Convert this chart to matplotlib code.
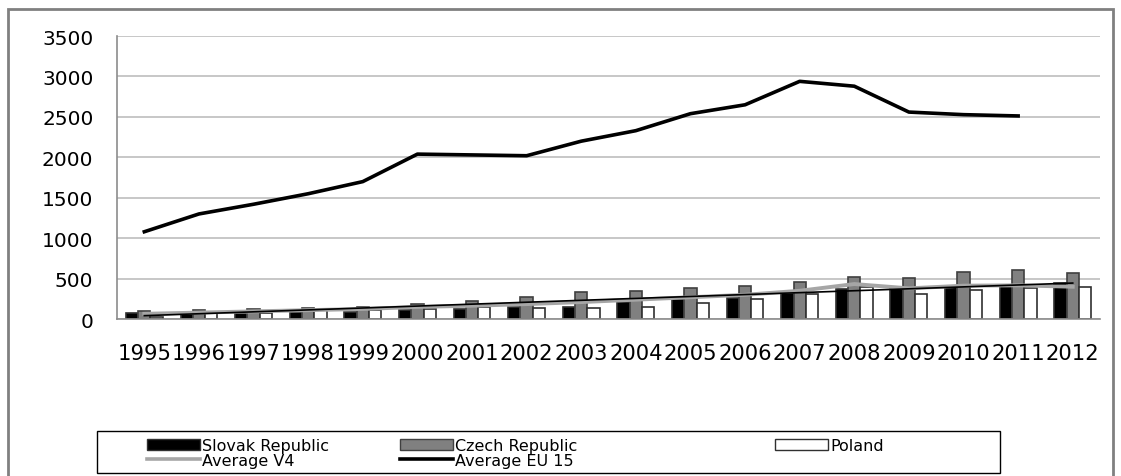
import numpy as np
import matplotlib
matplotlib.use('Agg')
import matplotlib.pyplot as plt
from matplotlib.patches import Rectangle, Patch
from matplotlib.lines import Line2D

# data
years = ['1995', '1996', '1997', '1998', '1999', '2000', '2001', '2002', '2003',
         '2004', '2005', '2006', '2007', '2008', '2009', '2010', '2011', '2012']
slovak = [75, 58, 75, 83, 92, 108, 125, 146, 146, 213, 246, 263, 325, 375, 375, 392, 420, 442]
czech = [100, 108, 125, 138, 150, 188, 221, 275, 338, 350, 388, 404, 463, 525, 513, 588, 613, 575]
poland = [29, 70, 75, 108, 117, 125, 150, 138, 138, 150, 200, 250, 308, 392, 313, 363, 380, 392]
avg_v4 = [65, 80, 95, 110, 125, 150, 165, 185, 210, 240, 270, 300, 350, 433, 380, 413, 417, 400]
avg_eu15 = [1080, 1300, 1420, 1550, 1700, 2040, 2030, 2020, 2200, 2330, 2540, 2650, 2940, 2880,
            2560, 2528, 2512]

plt.rcParams['font.family'] = 'DejaVu Sans'

fig = plt.figure(figsize=(11.21, 4.77), dpi=100)
ax = fig.add_axes([0.1044, 0.329, 0.8769, 0.5933])

x = np.arange(len(years))
w = 0.225
ax.bar(x - w, slovak, w, color='black', edgecolor='#303030', linewidth=1.2, zorder=2)
ax.bar(x, czech, w, color='#808080', edgecolor='#404040', linewidth=1.2, zorder=2)
ax.bar(x + w, poland, w, color='white', edgecolor='#303030', linewidth=1.2, zorder=2)

ax.plot(x, avg_v4, color='#a6a6a6', linewidth=2.8, zorder=3)
# linear trend of the V4 average
coef = np.polyfit(x, avg_v4, 1)
ax.plot(x, np.polyval(coef, x), color='black', linewidth=1.2, zorder=4)
ax.plot(x[:len(avg_eu15)], avg_eu15, color='black', linewidth=2.6, zorder=4)

ax.set_xlim(-0.5, len(years) - 0.5)
ax.set_ylim(0, 3500)
ax.set_yticks(np.arange(0, 3501, 500))
ax.set_xticks(x)
ax.set_xticklabels(years)
ax.tick_params(length=0, labelsize=14.5, pad=17)
ax.tick_params(axis='x', labelsize=15.2)
ax.grid(axis='y', color='#bdbdbd', linewidth=1.2, zorder=0)
ax.set_axisbelow(True)
for s in ['top', 'right']:
    ax.spines[s].set_visible(False)
ax.spines['left'].set_color('#8c8c8c')
ax.spines['bottom'].set_color('#8c8c8c')
ax.spines['left'].set_linewidth(1.2)
ax.spines['bottom'].set_linewidth(1.2)

# outer chart frame
fig.patches.append(Rectangle((8 / 1121, -0.1), 1105 / 1121, 1.1 - 10 / 477,
                             transform=fig.transFigure, fill=False,
                             edgecolor='#808080', linewidth=2))
# legend frame
fig.patches.append(Rectangle((97 / 1121, 1 - 474 / 477), 903 / 1121, 42 / 477,
                             transform=fig.transFigure, fill=False,
                             edgecolor='black', linewidth=1))

h_sk = Patch(facecolor='black', edgecolor='#303030', label='Slovak Republic')
h_cz = Patch(facecolor='#808080', edgecolor='#404040', label='Czech Republic')
h_pl = Patch(facecolor='white', edgecolor='#303030', label='Poland')
h_v4 = Line2D([], [], color='#a6a6a6', linewidth=2.6, label='Average V4')
h_eu = Line2D([], [], color='black', linewidth=2.6, label='Average EU 15')

cols = [([h_sk, h_v4], 147), ([h_cz, h_eu], 400), ([h_pl], 775)]
for handles, px in cols:
    fig.legend(handles=handles, loc='upper left',
               bbox_to_anchor=(px / 1121, 1 - 439 / 477),
               frameon=False, fontsize=11.5, handlelength=3.3, handleheight=0.7,
               handletextpad=0.15, borderpad=0, borderaxespad=0, labelspacing=0.0)

fig.savefig('out.png', dpi=100)
